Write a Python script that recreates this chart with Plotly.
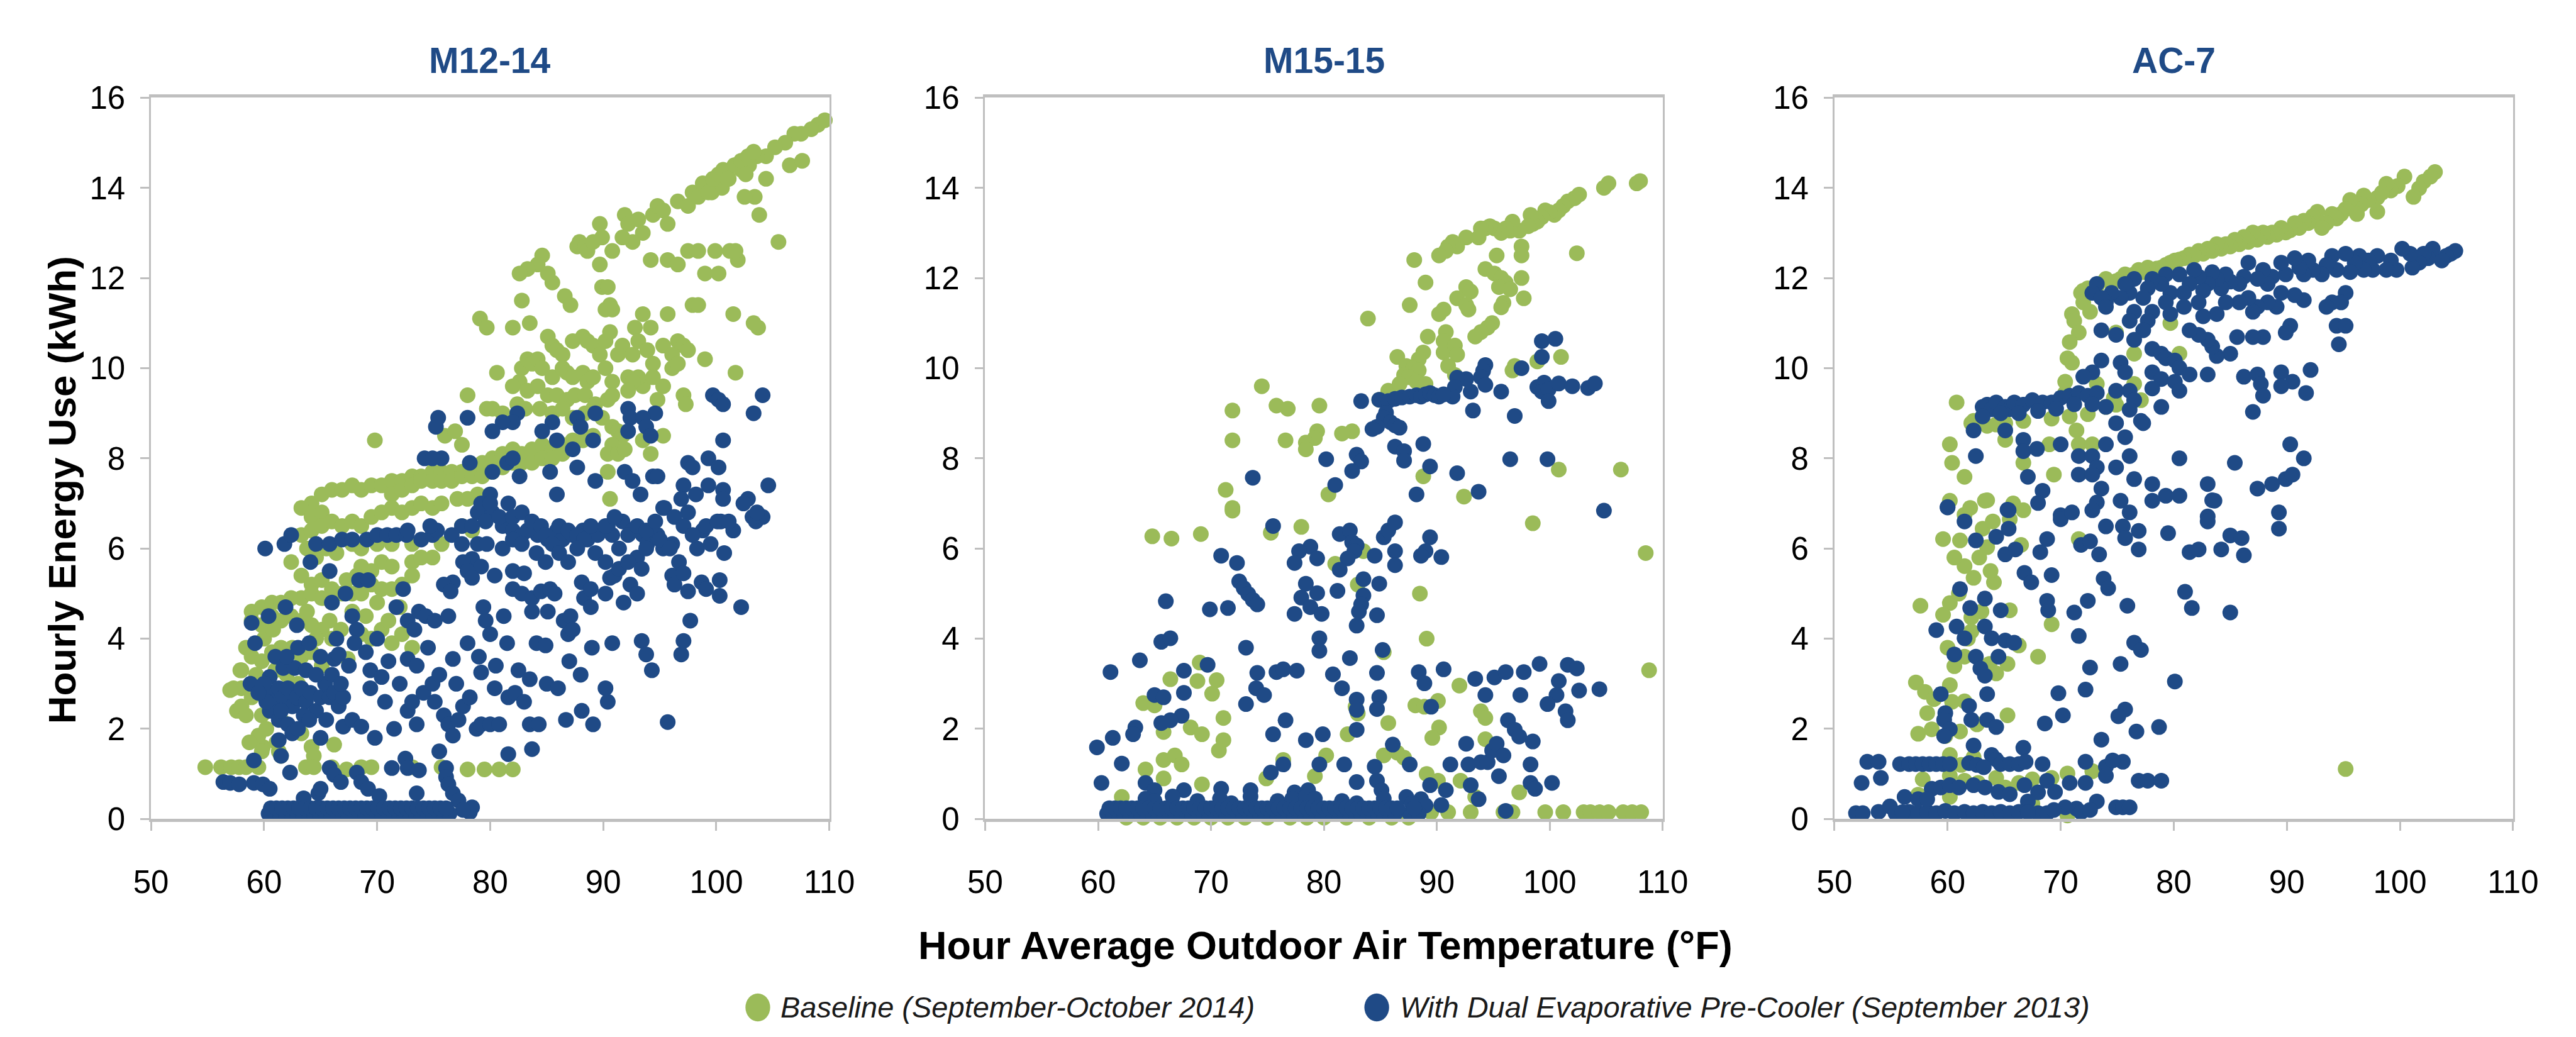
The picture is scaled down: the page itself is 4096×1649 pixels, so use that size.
import plotly.graph_objects as go

# ---------------- data ----------------
TITLES = ["M12-14", "M15-15", "AC-7"]
SERIES_NAMES = ["Baseline (September-October 2014)",
                "With Dual Evaporative Pre-Cooler (September 2013)"]
X_TICKS = [50, 60, 70, 80, 90, 100, 110]
Y_TICKS = [0, 2, 4, 6, 8, 10, 12, 14, 16]

M12_BASE = [
(109.6,15.5),(109.0,15.4),(108.4,15.3),(107.5,15.2),(106.9,15.2),(106.1,15.0),(105.2,14.9),(104.4,14.7),(103.6,14.7),(102.9,14.5),(102.2,14.4),(101.6,14.5),(101.1,14.2),(100.5,14.0),(99.6,13.9),(106.5,14.5),(107.6,14.6),(104.4,14.2),(103.4,13.8),(102.5,13.8),(103.8,13.4),(105.5,12.8),(101.9,12.4),(101.2,12.6),
(91.9,13.4),(92.2,13.2),(93.1,13.3),(93.5,13.0),(94.4,13.4),(94.8,13.6),(95.3,13.5),(95.7,13.2),(96.6,13.7),(97.5,13.6),(97.9,13.9),(98.4,13.8),(98.8,14.1),(99.3,13.9),(99.7,14.2),(100.2,14.3),(100.6,14.4),(101.0,14.2),(101.7,14.5),(102.2,14.6),(102.6,14.3),(102.8,14.7),(103.3,14.8),
(92.6,12.8),(91.7,12.9),(90.8,12.6),(89.9,12.9),(89.7,13.2),(94.2,12.4),(95.7,12.4),(96.6,12.3),(97.5,12.6),(98.4,12.6),(99.9,12.6),(101.7,12.6),(99.0,12.1),(100.2,12.1),
(87.7,12.7),(87.9,12.8),(88.4,12.7),(88.6,12.6),(89.1,12.8),(84.6,12.5),(84.2,12.3),(83.3,12.2),(82.6,12.1),(85.1,12.1),(85.5,11.9),(86.6,11.6),(87.1,11.4),(82.8,11.5),(79.1,11.1),(79.7,10.9),
(89.9,11.8),(90.4,11.8),(90.6,11.4),(90.8,11.3),(90.2,11.3),(89.7,12.3),(101.5,11.2),(103.7,10.9),(103.3,11.0),(97.9,11.4),(98.4,11.4),(99.0,10.2),(101.7,9.9),(95.7,11.2),(93.5,11.2),(94.2,10.9),(92.8,10.9),(93.1,10.6),(91.7,10.5),(91.3,10.3),(92.6,10.3),(93.9,10.4),(94.4,10.1),(95.3,10.5),(96.6,10.6),(97.1,10.5),(97.5,10.4),(96.1,10.3),(96.1,10.0),(96.6,10.1),(95.3,9.6),(97.1,9.4),(97.3,9.2),(94.8,9.3),(93.5,9.6),(93.1,9.8),(92.2,9.8),(92.6,9.7),(94.4,9.8),
(82.0,10.9),(83.5,11.0),(85.1,10.7),(85.5,10.5),(85.9,10.4),(86.4,10.3),(87.3,10.6),(88.2,10.7),(88.6,10.6),(89.1,10.5),(89.7,10.3),(90.2,10.6),(90.6,10.8),(82.8,10.0),(83.3,10.2),(83.7,10.1),(84.2,10.2),(84.6,10.0),(85.5,9.8),(86.4,10.0),(86.8,9.9),(87.3,9.8),(88.2,9.9),(88.6,9.7),(89.1,9.8),(90.2,10.0),(90.8,9.7),(82.6,9.7),(80.6,9.9),(82.0,9.6),(83.3,9.5),(84.2,9.6),(85.1,9.4),(85.9,9.4),(86.8,9.3),(87.5,9.4),(88.4,9.4),(89.3,9.2),(90.4,9.3),(90.8,9.4),(92.2,9.5),(79.7,9.1),(80.2,9.1),(81.1,9.0),(82.4,9.2),(83.1,9.1),(84.4,9.1),(85.5,9.0),(86.4,9.1),(87.3,8.9),(88.4,9.0),(89.1,9.1),(89.9,8.9),(90.8,8.7),(91.3,8.6),(91.7,8.5),(90.8,8.3),(90.4,8.1),(91.3,8.1),(91.9,8.2),(90.4,7.7),(90.6,7.1),(93.5,8.4),(94.2,8.1),(95.3,8.5),
(64.2,7.0),(65.1,7.2),(66.0,7.3),(66.9,7.3),(67.8,7.4),(68.6,7.3),(69.5,7.4),(70.4,7.4),(71.3,7.5),(72.2,7.5),(73.1,7.6),(73.9,7.6),(74.9,7.7),(75.7,7.7),(76.6,7.7),(77.5,7.7),(78.4,7.8),(79.3,7.9),(80.2,8.0),(81.1,8.1),(82.0,8.2),(82.8,8.1),(83.7,8.2),(84.6,8.3),(85.5,8.2),(86.4,8.3),(87.3,8.4),(88.2,8.4),(89.1,8.5),
(71.3,7.2),(72.2,7.3),(73.1,7.4),(73.9,7.5),(74.9,7.5),(75.7,7.5),(76.6,7.5),(77.5,7.6),(78.4,7.6),(79.3,7.6),(80.2,7.7),(81.1,7.8),(82.0,7.9),(82.8,7.9),(83.7,7.9),(84.6,8.0),(85.5,8.0),(86.4,8.1),
(63.3,6.9),(64.2,6.7),(65.1,6.8),(76.0,8.5),(77.5,8.3),(69.8,8.4),(78.0,9.4),(76.9,8.6),
(63.3,6.3),(64.2,6.4),(65.1,6.5),(66.0,6.6),(66.9,6.5),(67.8,6.6),(68.6,6.5),(69.5,6.7),(70.4,6.8),(71.3,6.9),(72.2,6.8),(73.1,6.9),(73.9,7.0),(74.9,6.9),(75.7,7.0),(77.1,7.1),(78.0,7.1),(78.9,7.2),
(63.8,6.0),(64.6,5.8),(65.5,6.0),(66.4,5.9),(67.8,6.1),(68.6,6.0),(70.0,6.1),(71.3,6.1),(73.1,6.1),(74.9,6.3),(75.7,6.1),(77.5,6.5),(78.4,6.4),
(70.4,5.7),(71.3,5.6),(73.1,5.7),(73.9,5.8),(74.9,5.8),(68.6,5.6),(69.5,5.5),(67.3,5.3),(68.2,5.4),(69.5,5.2),(70.4,5.1),(71.3,5.1),(72.2,5.2),(73.1,5.4),(62.4,5.7),(63.3,5.4),(64.2,5.2),(65.1,5.3),(66.0,5.1),(66.9,5.0),(67.8,5.0),(68.6,5.0),
(58.9,4.6),(59.8,4.7),(60.7,4.8),(61.5,4.8),(62.4,4.9),(63.3,4.9),(64.2,5.0),(65.1,4.9),(66.0,4.8),(58.9,4.4),(59.8,4.3),(60.7,4.5),(61.5,4.4),(62.4,4.5),(63.3,4.4),(64.2,4.3),(65.1,4.2),(66.0,4.0),(68.6,4.1),(69.5,4.0),(70.4,4.2),(71.3,3.9),(72.2,4.1),(73.1,3.8),
(60.0,4.0),(62.5,3.8),(64.6,4.0),(67.4,3.55),(61.0,3.3),(62.0,2.6),(63.0,3.0),(61.5,2.2),(60.8,4.2),(63.8,4.6),(65.8,4.4),(66.8,4.2),(67.8,4.6),(69.0,4.5),(70.0,4.8),(71.0,4.4),(72.0,4.7),
(58.4,3.8),(58.9,3.6),(59.8,3.5),(60.7,3.7),(61.5,3.8),(63.3,3.6),(64.2,3.7),(65.1,3.4),(59.3,3.2),(58.0,3.3),(58.0,2.9),(57.3,2.9),(62.0,3.2),(57.0,2.86),(57.6,2.4),(57.9,3.3),(58.9,2.7),(59.5,1.85),(59.9,1.6),(61.3,1.5),(66.2,1.65),
(58.0,2.5),(58.4,2.3),(59.8,2.3),(60.2,2.0),(58.7,1.7),(59.8,1.5),(61.1,1.7),(61.5,1.4),(64.2,1.6),(63.3,1.9),(64.4,1.4),
(54.8,1.15),(56.2,1.15),(57.1,1.15),(57.8,1.15),(58.4,1.15),(59.5,1.15),(63.7,1.15),(64.4,1.15),(66.0,1.15),(67.3,1.1),(68.6,1.15),(69.5,1.15),(73.1,1.15),(75.7,1.15),(78.0,1.1),(79.5,1.1),(80.8,1.1),(82.0,1.1),
]

M12_DUAL = [
(99.7,9.4),(100.2,9.3),(100.6,9.2),(104.1,9.4),(103.3,9.0),(92.2,9.1),(92.4,8.9),(94.6,9.0),(93.5,8.9),(93.8,8.7),(92.2,8.6),(94.2,8.5),(100.6,8.4),(87.7,8.9),(88.0,8.7),(89.3,9.0),(89.1,8.4),(85.5,8.8),(84.6,8.6),(85.9,8.4),(82.4,9.0),(82.0,8.8),(81.1,8.8),(80.2,8.6),(78.0,8.9),(75.4,8.9),(75.2,8.7),(74.2,8.0),(75.7,8.0),(74.9,8.0),
(78.2,7.9),(81.5,7.9),(82.0,8.0),(82.6,7.6),(80.2,7.7),(80.0,7.2),(85.3,7.7),(85.9,7.2),(87.3,8.2),(87.7,7.8),(89.3,7.5),(91.9,7.7),(93.3,7.2),(94.4,7.6),(94.8,7.6),(92.6,7.5),(97.5,7.9),(97.9,7.8),(99.3,8.0),(100.2,7.8),(99.3,7.4),(100.6,7.3),(98.2,7.2),(100.6,7.1),(104.6,7.4),(102.8,7.1),(97.1,7.4),(96.9,7.1),(95.3,6.9),(97.5,6.8),(98.8,6.4),(100.4,6.6),(101.5,6.4),(103.5,6.6),(104.1,6.7),
(77.5,6.5),(78.9,6.8),(80.2,6.8),(81.1,6.5),(82.0,6.4),(82.8,6.3),(84.2,6.3),(85.1,6.2),(85.9,6.4),(86.4,6.2),(87.3,6.3),(88.2,6.4),(88.6,6.2),(89.5,6.3),(90.4,6.5),(90.8,6.3),(91.7,6.6),(92.6,6.4),(93.5,6.3),(93.9,6.1),(94.8,6.3),(95.3,6.0),(96.1,6.1),
(60.1,6.0),(61.8,6.1),(62.4,6.3),(64.6,6.1),(65.8,6.1),(66.9,6.2),(67.8,6.2),(69.1,6.2),(70.0,6.3),(70.9,6.3),(71.7,6.3),(72.6,6.3),(73.9,6.2),(74.9,6.3),(75.3,6.4),(76.6,6.3),(77.5,6.1),(78.9,6.1),(79.7,6.1),(81.1,6.0),
(79.2,7.0),(80.0,7.0),(79.6,6.6),(80.8,6.7),(81.6,7.0),(82.0,6.7),(82.8,6.8),(83.3,6.4),(83.7,6.6),(84.5,6.5),(84.9,6.3),(85.5,6.1),(86.1,6.5),(86.9,6.4),(87.7,6.3),(88.3,6.2),(88.9,6.5),(90.2,6.5),(91.0,6.7),(92.2,6.3),(93.0,6.5),(93.8,6.4),(94.6,6.6),(95.4,6.9),(96.3,6.7),(97.1,6.5),(98.3,6.0),(99.1,6.5),(100.1,6.6),(101.1,6.6),(102.4,7.0),(103.2,6.7),(103.6,6.8),(72.7,6.4),(74.7,6.5),(78.4,6.5),
(78.4,5.77),(79.2,5.6),(82.0,6.2),(82.8,6.1),(84.1,5.9),(84.9,5.7),(86.1,5.9),(86.9,5.7),(87.7,6.0),(89.3,5.9),(90.2,5.7),(91.4,6.0),(93.0,5.8),(93.8,6.0),(95.0,6.2),(95.9,6.0),(96.7,5.7),(97.9,6.3),(99.5,6.1),(100.7,5.9),
(58.9,4.35),(60.4,4.5),(59.2,3.9),(61.9,4.7),(62.9,4.3),(64.1,5.7),(65.8,5.5),(67.2,5.0),(66.0,4.8),(66.4,4.0),(67.8,4.5),(68.2,4.2),(68.4,5.3),(69.2,5.3),(71.7,4.7),(72.3,5.1),(72.7,4.4),(73.3,4.2),(73.7,4.6),(74.3,4.5),(75.1,4.4),(76.3,4.5),(76.7,5.25),(75.9,5.2),(76.5,5.05),(77.6,5.7),(78.0,5.5),(78.4,5.35),(79.4,4.7),(80.4,5.4),(79.6,4.4),(80.0,4.1),(81.2,4.5),(82.0,5.5),(83.0,5.45),(82.0,5.1),(82.8,5.0),(83.7,4.9),(84.1,3.9),(84.9,3.85),(83.7,4.6),(84.5,5.05),(85.3,5.1),(85.7,5.0),(85.1,4.6),(86.5,4.4),(86.9,4.1),(87.1,4.5),(87.3,4.2),(88.1,5.25),(88.3,4.9),(88.9,5.1),(88.9,4.7),(90.2,5.0),(90.6,5.35),(91.0,5.4),(91.4,5.55),(91.8,4.8),(92.4,5.2),(93.0,5.0),(92.2,5.7),(93.4,5.55),(93.4,3.95),(93.8,3.65),(94.3,3.3),(96.1,5.4),(96.3,5.2),(97.1,5.45),(97.5,5.05),(97.7,4.4),(97.1,3.95),(96.9,3.65),(98.7,5.25),(99.1,5.1),(100.3,5.3),(100.3,4.95),(102.2,4.7),(90.8,3.9),(95.7,2.15),
(60.5,3.15),(60.7,2.8),(60.9,2.6),(61.3,2.9),(61.7,2.7),(62.1,2.9),(62.5,2.5),(62.9,2.7),(63.3,2.9),(63.7,2.6),(64.1,2.8),(64.6,2.4),(65.0,2.7),(65.4,3.0),(65.8,2.7),(66.2,2.8),(66.6,2.5),(67.0,2.7),(60.5,2.4),(61.3,2.2),(62.1,2.1),(61.7,3.35),(62.7,3.35),(63.7,3.3),(64.6,3.2),(66.2,3.55),(66.6,3.65),(61.3,1.75),(62.5,1.9),(65.0,1.8),(67.0,2.05),(67.8,2.2),(68.6,2.05),(69.4,2.9),(69.4,3.3),(70.4,3.15),(70.7,2.6),(69.8,1.8),(71.5,2.0),(72.7,2.4),(73.1,2.6),(73.5,2.1),(74.1,2.8),(74.9,3.0),(75.1,2.6),(75.9,2.3),(76.3,2.1),(76.7,1.85),(77.2,2.2),(77.6,2.5),(78.2,2.7),(78.8,2.0),(79.2,2.1),(80.0,2.1),(80.8,2.1),(81.6,2.7),(82.2,2.8),(83.0,2.6),(83.5,2.1),(83.7,1.55),(84.3,2.1),(86.7,2.2),(88.1,2.4),(89.1,2.1),(90.4,2.6),(90.2,2.9),(79.2,3.25),(80.4,2.9),(72.7,3.55),(76.7,3.55),
(60.0,3.0),(61.0,3.6),(62.0,3.6),(63.0,3.8),(64.0,3.9),(65.0,3.6),(66.0,3.2),(61.5,2.4),(63.5,2.3),(65.5,2.2),(63.0,2.0),(64.0,2.2),(60.2,2.6),(66.8,3.0),(67.5,3.4),(68.0,3.9),(69.0,3.7),(70.0,4.0),(71.0,3.5),(72.0,3.0),(73.5,3.4),(74.5,3.8),(75.5,3.2),(77.0,3.0),(78.0,3.9),(79.0,3.6),(80.5,3.4),(81.5,3.9),(82.5,3.3),(83.5,3.1),(85.0,3.0),(86.0,2.9),(87.0,3.5),(88.0,3.2),(89.0,3.8),(58.8,3.0),(59.5,2.8),
(59.1,1.3),(56.4,0.82),(57.0,0.8),(57.8,0.77),(59.1,0.8),(59.9,0.77),(60.5,0.67),(62.3,1.03),(61.5,1.4),(63.5,0.46),(64.8,0.57),(65.8,1.13),(66.2,0.98),(66.8,0.82),(68.2,1.03),(68.6,0.82),(69.2,0.67),(70.2,0.51),(71.3,1.13),(72.5,1.34),(72.7,1.13),(73.5,0.57),(73.7,1.08),(76.1,1.13),(76.1,0.93),(76.3,0.77),(76.7,0.57),(77.2,0.41),(78.2,0.15),(78.4,0.26),(75.5,1.5),(81.6,1.44),(65.0,0.67),(77.6,0.2),
(60.4,0.12),(60.9,0.12),(61.4,0.12),(61.9,0.12),(62.4,0.12),(62.9,0.12),(63.4,0.12),(63.9,0.12),(64.4,0.12),(64.9,0.12),(65.4,0.12),(65.9,0.12),(66.4,0.12),(66.9,0.12),(67.4,0.12),(67.9,0.12),(68.4,0.12),(68.9,0.12),(69.4,0.12),(69.9,0.12),(70.4,0.12),(70.9,0.12),(71.4,0.12),(71.9,0.12),(72.4,0.12),(72.9,0.12),(73.4,0.12),(73.9,0.12),(74.4,0.12),(74.9,0.12),(75.4,0.12),(75.9,0.12),(76.4,0.12),
(60.6,0.24),(61.1,0.24),(61.6,0.24),(62.1,0.24),(62.6,0.24),(63.1,0.24),(63.6,0.24),(64.1,0.24),(64.6,0.24),(65.1,0.24),(65.6,0.24),(66.1,0.24),(66.6,0.24),(67.1,0.24),(67.6,0.24),(68.1,0.24),(68.6,0.24),(69.1,0.24),(69.6,0.24),(70.1,0.24),(70.6,0.24),(71.1,0.24),(71.6,0.24),(72.1,0.24),(72.6,0.24),(73.1,0.24),(73.6,0.24),(74.1,0.24),(74.6,0.24),(75.1,0.24),(75.6,0.24),(76.1,0.24),
]

M15_BASE = [
(107.7,14.1),(108.0,14.15),(104.8,14.0),(105.2,14.1),(102.6,13.85),(102.2,13.77),(101.6,13.7),(101.2,13.6),(100.8,13.5),(100.4,13.4),(100.0,13.46),(99.6,13.5),(99.3,13.35),(98.9,13.25),(98.5,13.2),(98.3,13.4),(98.1,13.15),(97.3,13.05),(96.7,13.25),(96.5,13.05),(96.1,13.1),(95.7,13.0),(95.1,13.1),(94.7,13.15),(94.3,13.1),(93.9,13.1),(93.7,12.9),(92.6,12.9),(91.8,12.7),(91.4,12.8),(91.0,12.7),(90.8,12.6),(90.2,12.5),(88.0,12.4),(97.5,12.7),(97.5,12.5),(95.3,12.5),(94.3,12.2),(95.1,12.1),(95.7,12.0),(96.1,11.9),(97.5,12.0),(95.5,11.8),(96.5,11.75),(97.7,11.55),(95.9,11.45),(95.7,11.35),(102.4,12.55),(92.6,11.8),(93.0,11.7),(89.0,11.9),(91.8,11.55),(92.6,11.4),(92.8,11.3),(90.6,11.3),(90.2,11.2),(87.6,11.4),(83.9,11.1),(94.9,11.0),(94.5,10.9),(93.9,10.8),(93.4,10.7),(90.8,10.8),(90.6,10.6),(89.2,10.7),(88.8,10.35),(90.6,10.35),(91.6,10.5),(91.8,10.3),(86.5,10.25),(88.4,10.2),(87.3,10.05),(87.9,10.0),(88.4,9.95),(87.1,9.85),(87.5,9.8),(91.0,10.05),(91.6,9.85),(96.9,10.05),(98.9,10.15),(101.0,10.25),(96.7,9.95),
(84.9,9.3),(85.7,9.5),(86.7,9.65),(88.2,9.7),(89.0,9.65),(74.5,9.6),(71.9,9.06),(75.8,9.17),(76.8,9.1),(79.6,9.17),(82.5,8.6),(81.6,8.55),(79.4,8.6),(79.2,8.45),(78.4,8.35),(78.4,8.2),(76.6,8.4),(71.9,8.4),(100.8,7.75),(106.3,7.75),(88.8,7.6),(71.3,7.3),(71.9,6.9),(80.4,7.2),(92.4,7.15),
(71.9,6.84),(64.8,6.27),(66.5,6.22),(69.1,6.32),(78.0,6.48),(75.3,6.35),(98.5,6.56),(108.5,5.9),(83.5,5.94),(81.0,5.66),(83.0,5.2),(88.5,5.0),(89.1,4.0),(85.3,3.7),(108.8,3.3),(69.0,3.47),(66.4,3.1),(68.8,3.06),(70.5,3.08),(70.1,2.78),(64.0,2.57),(65.0,2.52),(92.0,2.96),(88.1,2.52),(88.9,2.49),(90.1,2.62),(82.8,2.49),(83.0,2.34),(93.9,2.39),(94.3,2.24),(71.1,2.24),(65.8,1.93),(68.2,2.03),(69.2,1.88),(71.1,1.75),(70.7,1.52),(82.1,1.88),(85.7,2.13),(90.2,2.03),(89.6,1.8),(94.3,1.77),(65.8,1.31),(66.8,1.41),(67.4,1.21),(64.2,1.1),(80.2,1.41),(76.4,1.31),(86.5,1.47),(87.1,1.36),(85.3,1.41),(79.2,0.95),(74.9,0.9),(69.2,0.77),(65.8,0.9),(62.1,0.49),(89.1,1.0),(90.1,0.85),(92.1,0.85),(93.4,0.49),(97.3,0.59),
(96.7,0.15),(99.6,0.15),(101.2,0.15),(103.0,0.15),(103.6,0.15),(104.4,0.15),(105.2,0.15),(106.5,0.15),(107.3,0.15),(108.1,0.15),(95.9,0.15),(93.0,0.15),(91.0,0.15),(89.5,0.15),
(62.5,0.03),(64.0,0.03),(65.5,0.03),(67.0,0.03),(68.5,0.03),(70.0,0.03),(71.5,0.03),(73.0,0.03),(75.0,0.03),(77.0,0.03),(78.5,0.03),(80.0,0.03),(82.0,0.03),(84.0,0.03),(86.0,0.03),(87.5,0.03),
]

M15_DUAL = [
(99.3,10.6),(100.5,10.65),(99.3,10.25),(97.5,10.0),(94.3,10.07),(94.1,9.94),(93.9,9.8),(92.6,9.76),(91.8,9.79),(91.6,9.58),(91.4,9.37),(93.0,9.48),(94.3,9.63),(98.9,9.58),(99.5,9.68),(99.3,9.48),(99.9,9.53),(100.8,9.66),(102.0,9.6),(103.4,9.56),(104.0,9.66),(99.9,9.27),(95.7,9.48),(93.2,9.06),(96.9,8.94),(83.3,9.27),(84.9,9.3),(85.7,9.27),(86.3,9.32),(86.9,9.35),(87.6,9.37),(88.2,9.4),(88.6,9.37),(89.0,9.42),(89.4,9.45),(89.8,9.4),(90.2,9.37),(90.6,9.42),(85.5,9.01),(85.3,8.9),(85.9,8.8),(86.3,8.73),(86.7,8.68),(84.7,8.7),(84.3,8.65),(86.3,8.26),(87.1,8.16),(88.8,8.32),(87.1,7.95),(89.4,7.82),(82.9,8.08),(83.3,7.93),(82.5,7.72),(80.2,7.98),(81.0,7.41),(73.7,7.57),(88.2,7.2),(91.8,7.67),(93.7,7.26),(96.5,7.98),(99.8,7.98),(104.8,6.84),
(75.5,6.5),(81.4,6.32),(82.3,6.4),(82.5,6.14),(82.9,6.07),(82.7,5.94),(82.1,5.78),(81.4,5.53),(85.3,6.25),(85.7,6.4),(86.3,6.58),(86.3,5.94),(86.3,5.63),(89.4,6.25),(89.0,5.94),(88.6,5.84),(90.4,5.81),(84.5,5.84),(78.8,6.04),(77.8,5.94),(77.4,5.68),(79.4,5.78),(70.9,5.84),(72.3,5.68),(72.5,5.27),(72.9,5.12),(73.3,4.99),(73.7,4.86),(74.1,4.76),(69.9,4.65),(71.5,4.68),(66.0,4.83),(78.4,5.22),(79.4,5.01),(78.0,4.91),(77.4,4.55),(78.8,4.7),(79.8,4.55),(81.2,5.06),(83.5,5.32),(83.5,4.96),(83.3,4.76),(83.1,4.6),(82.9,4.29),(84.9,5.22),(84.7,4.52),(79.6,4.01),(79.6,3.73),(65.6,3.93),(66.4,4.01),(73.1,3.8),(82.3,3.57),(85.2,3.75),(63.7,3.52),(61.1,3.26),(67.6,3.29),(69.7,3.42),(74.1,3.24),(75.8,3.26),(76.4,3.32),(77.6,3.29),(80.8,3.21),(84.7,3.24),(88.4,3.26),(90.6,3.32),(93.4,3.11),(95.1,3.14),(96.1,3.26),(97.7,3.26),(99.1,3.44),(101.6,3.42),(102.4,3.34),(104.4,2.88),(102.6,2.85),(100.8,3.06),(100.6,2.75),(99.8,2.55),(101.4,2.39),(101.6,2.19),(97.4,2.75),(94.3,2.75),(88.9,3.01),(89.5,2.49),(84.9,2.7),(84.7,2.44),(82.9,2.65),(82.9,2.42),(81.6,2.9),(74.0,2.9),(74.7,2.75),(73.1,2.55),(67.6,2.8),(65.0,2.75),(65.8,2.7),(67.4,2.29),(66.4,2.19),(65.6,2.13),(63.3,2.03),(63.1,1.88),(61.3,1.8),(59.9,1.59),(62.1,1.23),(60.3,0.8),(64.2,0.8),(65.0,0.64),(67.6,0.64),(70.9,0.67),(73.5,0.64),(75.5,1.88),(76.6,2.19),(76.4,1.21),(75.3,1.03),(78.4,1.75),(79.9,1.88),(79.6,1.21),(78.6,0.64),(77.4,0.59),(81.8,1.21),(82.9,1.98),(82.9,0.82),(84.5,1.16),(84.7,0.85),(85.1,0.64),(86.1,1.65),(87.6,1.21),(87.3,0.49),(88.6,0.44),(89.4,0.75),(90.4,0.31),(90.8,0.64),(91.2,1.21),(92.6,1.67),(92.8,1.21),(93.0,0.75),(93.7,0.44),(93.9,1.26),(94.5,1.26),(94.9,1.52),(95.3,1.67),(95.9,1.41),(95.5,0.95),(96.1,0.18),(96.3,2.19),(96.9,1.98),(97.3,1.83),(98.5,1.72),(98.3,1.21),(98.3,0.8),(98.7,0.67),(100.2,0.8),
(64.2,0.45),(65.0,0.4),(66.6,0.5),(68.8,0.4),(70.8,0.45),(71.8,0.35),(73.5,0.5),(75.9,0.4),(77.2,0.45),(78.4,0.5),(79.2,0.45),(81.6,0.4),(82.9,0.35),(85.3,0.45),(87.8,0.35),(89.0,0.3),
(60.8,0.12),(61.3,0.12),(61.8,0.12),(62.3,0.12),(62.8,0.12),(63.3,0.12),(63.8,0.12),(64.3,0.12),(64.8,0.12),(65.3,0.12),(65.8,0.12),(66.3,0.12),(66.8,0.12),(67.3,0.12),(67.8,0.12),(68.3,0.12),(68.8,0.12),(69.3,0.12),(69.8,0.12),(70.3,0.12),(70.8,0.12),(71.3,0.12),(71.8,0.12),(72.3,0.12),(72.8,0.12),(73.3,0.12),(73.8,0.12),(74.3,0.12),(74.8,0.12),(75.3,0.12),(75.8,0.12),(76.3,0.12),(76.8,0.12),(77.3,0.12),(77.8,0.12),(78.3,0.12),(78.8,0.12),(79.3,0.12),(79.8,0.12),(80.3,0.12),(80.8,0.12),(81.3,0.12),(81.8,0.12),(82.3,0.12),(82.8,0.12),(83.3,0.12),(83.8,0.12),(84.3,0.12),(84.8,0.12),(85.3,0.12),(85.8,0.12),(86.3,0.12),(87.6,0.12),(88.4,0.12),
(61.0,0.24),(61.5,0.24),(62.0,0.24),(62.5,0.24),(63.0,0.24),(63.5,0.24),(64.0,0.24),(64.5,0.24),(65.0,0.24),(65.5,0.24),(66.0,0.24),(66.5,0.24),(67.0,0.24),(67.5,0.24),(68.0,0.24),(68.5,0.24),(69.0,0.24),(69.5,0.24),(70.0,0.24),(70.5,0.24),(71.0,0.24),(71.5,0.24),(72.0,0.24),(72.5,0.24),(73.0,0.24),(73.5,0.24),(74.0,0.24),(74.5,0.24),(75.0,0.24),(75.5,0.24),(76.0,0.24),(76.5,0.24),(77.0,0.24),(77.5,0.24),(78.0,0.24),(78.5,0.24),(79.0,0.24),(79.5,0.24),(80.0,0.24),(80.5,0.24),(81.0,0.24),(81.5,0.24),(82.0,0.24),(82.5,0.24),(83.0,0.24),(83.5,0.24),(84.0,0.24),(84.5,0.24),(85.0,0.24),(85.5,0.24),(86.0,0.24),(86.5,0.24),(88.0,0.24),
]

AC7_BASE = [
(103.1,14.35),(102.7,14.25),(102.1,14.14),(101.7,13.99),(100.4,14.25),(99.8,14.04),(99.2,13.94),(98.8,14.09),(98.4,13.89),(98.0,13.78),(97.2,13.73),(96.8,13.83),(96.6,13.63),(96.2,13.53),(95.6,13.73),(95.2,13.53),(94.8,13.42),(94.4,13.32),(94.0,13.42),(93.5,13.22),(92.7,13.47),(92.3,13.37),(91.9,13.22),(91.5,13.27),(91.1,13.11),(90.7,13.22),(90.3,13.06),(89.9,13.01),(89.5,13.11),(89.1,12.96),(88.7,13.01),(88.3,12.91),(87.9,13.01),(87.4,12.85),(87.0,13.01),(86.6,12.8),(86.2,12.91),(85.8,12.75),(85.4,12.85),(85.0,12.7),(84.6,12.75),(84.2,12.65),(83.8,12.75),(83.4,12.6),(83.0,12.65),(82.6,12.54),(82.2,12.6),(81.8,12.49),(81.4,12.52),(80.9,12.44),(80.5,12.41),(80.1,12.39),(79.7,12.34),(79.3,12.29),(78.9,12.23),(78.5,12.21),(78.1,12.18),(77.7,12.23),(77.3,12.13),(76.9,12.18),(76.5,12.08),(76.1,12.03),(75.7,12.08),(75.3,11.98),(74.9,11.93),(74.5,11.87),(74.0,11.98),(73.2,11.82),(72.4,11.77),(72.0,11.72),(71.8,11.67),(72.0,11.46),(71.0,11.2),(71.2,11.05),(71.6,10.79),(70.8,10.58),(70.6,10.22),(71.0,10.12),(70.4,9.7),(70.4,9.45),(72.6,11.25),(74.9,10.79),(76.5,10.32),(79.7,11.0),(80.5,10.32),(73.2,9.65),(74.7,9.34),(74.9,9.19),(76.5,9.65),(77.1,9.29),
(98.0,13.47),(96.2,13.42),(93.1,13.11),(101.2,13.8),
(60.8,9.24),(62.3,8.83),(63.5,8.72),(65.1,8.78),(62.1,8.78),(64.3,8.75),(66.7,8.83),(69.2,8.88),(70.8,8.93),(72.4,8.98),(74.0,9.14),(60.2,8.31),(60.4,7.9),(61.5,7.59),(63.5,7.07),(65.1,8.41),(66.7,7.9),(69.0,8.31),(71.4,8.62),(71.6,8.31),(72.8,8.31),(69.4,7.64),
(60.2,7.06),(61.5,6.75),(63.3,7.06),(65.5,6.65),(66.7,6.85),(71.6,6.21),(59.6,6.21),(61.1,6.18),(63.1,6.44),(63.5,6.03),(66.5,6.08),(61.5,5.61),(62.3,5.35),(64.1,5.25),(57.6,4.73),(60.2,4.79),(59.6,4.53),(62.1,4.47),(65.5,4.63),(69.2,4.32),(62.1,4.16),(60.0,3.8),(61.5,3.6),(63.7,3.44),(64.3,3.23),(66.3,3.85),(65.3,3.44),(68.0,3.6),(60.6,3.39),(57.2,3.03),(58.0,2.82),(58.8,2.66),(60.2,2.97),(61.5,2.61),(58.2,2.35),(57.4,1.89),(58.6,1.99),(59.8,1.84),(61.1,1.94),(65.3,2.3),(60.2,1.42),(62.3,1.37),(57.8,0.88),(60.2,0.96),(61.5,0.85),(62.7,0.8),(64.3,0.91),(65.1,0.7),(66.3,0.8),(67.5,0.88),(69.2,0.91),(70.6,1.01),(72.8,1.06),(57.4,0.54),(60.2,0.49),(67.5,0.34),(70.6,0.08),(95.2,1.11),
(61.0,5.0),(60.6,5.8),(62.8,5.8),(63.8,5.5),(61.8,4.0),(63.0,4.6),(60.4,2.6),(62.6,2.1),(61.2,1.2),(64.0,6.6),(65.8,7.0),(62.0,6.9),
]

AC7_DUAL = [
(104.5,12.54),(104.9,12.6),(104.1,12.49),(103.7,12.39),(102.9,12.65),(102.5,12.44),(102.1,12.54),(101.7,12.34),(101.1,12.23),(100.9,12.54),(100.2,12.65),(99.7,12.18),(99.2,12.39),(98.8,12.18),(98.0,12.49),(97.6,12.18),(97.2,12.39),(96.8,12.18),(96.4,12.49),(96.0,12.34),(95.6,12.13),(95.2,12.54),(94.4,12.18),(94.0,12.49),(93.5,12.29),(93.1,12.08),(92.3,12.18),(91.9,12.39),(91.5,12.08),(91.1,12.23),(90.7,12.44),(89.9,12.08),(89.5,12.34),(88.7,12.03),(88.3,11.87),(87.9,12.18),(87.4,11.98),(86.6,12.34),(86.2,12.03),(85.8,11.87),(85.0,11.92),(84.6,12.08),(84.2,11.77),(83.8,11.98),(83.4,12.13),(83.0,11.87),(82.6,11.72),(82.2,12.03),(81.8,12.18),(81.4,11.87),(80.9,11.67),(80.5,12.08),(79.7,11.67),(79.3,12.08),(78.9,11.87),(78.1,11.98),(77.7,11.77),(77.3,11.56),(76.5,11.98),(76.1,11.67),(75.7,11.87),(75.3,11.56),(74.5,11.67),(74.0,11.46),(73.2,11.87),(72.8,11.67),(73.6,11.56),
(95.2,11.67),(94.8,11.46),(94.0,11.46),(93.5,11.36),(91.5,11.51),(90.7,11.62),(89.5,11.67),(89.1,11.36),(88.3,11.46),(87.4,11.36),(87.0,11.25),(86.6,11.56),(85.8,11.46),(84.6,11.46),(83.8,11.2),(82.6,11.15),(82.2,11.46),(80.9,11.36),(79.7,11.2),(79.3,11.46),(78.1,11.25),(77.7,11.05),(76.5,11.25),(76.1,11.05),(74.0,11.36),
(94.4,10.94),(95.2,10.94),(94.6,10.53),(90.3,10.94),(89.9,10.79),(87.9,10.69),(87.0,10.69),(85.6,10.69),(85.0,10.32),(83.8,10.27),(83.4,10.48),(83.0,10.63),(82.2,10.74),(81.4,10.84),(78.1,10.43),(78.9,10.32),(79.3,10.22),(80.1,10.17),(80.5,10.01),(81.4,9.86),(77.3,10.84),(74.9,10.74),(73.6,10.84),(76.5,10.63),
(83.0,9.86),(86.2,9.81),(87.4,9.86),(89.5,9.91),(92.1,9.96),(90.5,9.7),(87.7,9.65),(89.5,9.6),(91.7,9.45),(87.9,9.39),(87.0,9.03),
(73.6,10.17),(72.8,9.91),(72.0,9.81),(75.3,10.12),(75.7,9.91),(78.1,9.91),(78.9,9.76),(80.1,9.7),(78.1,9.55),(80.5,9.5),(76.1,9.5),(76.5,9.29),(76.1,9.08),(77.3,8.78),(78.9,9.14),
(63.1,9.14),(63.5,9.19),(63.9,9.09),(64.3,9.24),(65.1,9.14),(65.5,9.09),(65.9,9.24),(66.7,9.19),(67.5,9.29),(68.4,9.24),(69.2,9.24),(70.0,9.34),(70.8,9.39),(71.6,9.45),(72.4,9.39),(73.2,9.45),(74.0,9.14),(63.1,8.93),(64.7,9.0),(66.3,9.0),(68.0,9.05),(69.6,9.1),(71.2,9.2),(72.8,9.2),(74.9,9.5),
(62.3,8.62),(62.5,8.05),(65.1,8.62),(66.7,8.41),(66.7,8.16),(67.9,8.21),(70.0,8.31),(71.6,8.05),(72.8,8.05),(73.2,7.8),(74.0,8.31),(74.9,8.78),(75.7,8.47),(76.1,8.05),(77.1,8.83),(74.9,7.8),(76.5,7.54),(78.1,7.43),(79.3,7.17),(80.5,8.0),(80.5,7.17),(83.0,7.43),(83.4,7.07),(85.4,7.9),(87.4,7.33),(88.7,7.43),(89.9,7.54),(90.5,7.64),(90.3,8.31),(91.5,8.0),(67.1,7.59),(68.4,7.28),(71.6,7.64),(72.8,7.64),(73.6,7.33),(60.0,6.92),(65.3,6.86),(70.0,6.74),(73.2,7.02),(83.0,6.71),
(60.0,6.91),(61.5,6.6),(62.5,6.18),(64.3,6.26),(65.4,6.85),(65.4,6.44),(66.0,5.98),(65.1,5.87),(68.2,5.92),(68.0,7.01),(68.8,6.21),(69.2,5.41),(66.8,5.46),(67.4,5.25),(70.0,6.65),(71.0,6.8),(71.8,6.08),(72.6,6.16),(73.4,5.87),(72.8,6.85),(74.0,6.49),(75.3,7.06),(75.5,6.49),(75.7,6.23),(76.1,6.8),(76.9,6.39),(76.9,5.98),(78.1,7.06),(79.5,6.34),(81.4,5.92),(82.2,5.98),(83.0,6.6),(83.6,7.06),(84.2,5.98),(85.0,6.29),(86.0,6.23),(86.2,5.85),(89.3,6.8),(89.3,6.44),(81.0,5.04),(81.6,4.68),(85.0,4.58),(73.8,5.33),(74.2,5.12),(72.4,4.84),(71.2,4.58),(68.8,4.84),(68.9,4.63),(75.9,4.73),(76.5,3.91),(77.1,3.75),(71.6,4.06),(72.6,3.36),(75.3,3.44),(80.1,3.05),(72.2,2.87),(69.8,2.79),(70.2,2.3),(75.7,2.43),(75.1,2.28),(68.6,2.12),(76.7,1.94),(78.7,2.04),(73.6,1.76),(59.0,4.19),(60.8,4.27),(60.6,3.65),(61.5,4.01),(61.1,5.1),(62.0,4.68),(63.3,4.89),(63.3,4.27),(63.9,4.01),(64.7,4.63),(65.1,3.96),(65.9,3.91),(64.5,3.6),(62.5,3.6),(62.9,3.34),(63.3,3.18),(63.5,2.77),(61.9,2.51),(59.8,2.35),(59.7,2.2),(60.2,1.99),(59.7,1.84),(59.4,2.77),(62.1,2.2),(62.3,1.63),(63.5,2.2),(64.3,2.04),(66.7,1.58),(63.9,1.42),
(52.9,1.27),(53.9,1.27),(55.8,1.22),(56.6,1.22),(57.2,1.22),(57.8,1.22),(58.4,1.22),(59.0,1.22),(59.6,1.22),(60.2,1.22),(61.9,1.24),(64.3,1.32),(64.7,1.22),(65.5,1.22),(66.3,1.22),(66.9,1.27),(68.4,1.22),(72.2,1.27),(74.0,1.16),(75.5,1.27),(74.6,1.3),(62.6,1.2),(63.2,1.15),
(52.4,0.8),(54.1,0.91),(58.6,0.67),(59.4,0.7),(60.2,0.75),(61.0,0.7),(62.3,0.75),(63.3,0.7),(64.5,0.6),(65.5,0.55),(68.0,0.59),(68.8,0.85),(70.8,0.8),(72.2,0.8),(74.0,0.96),(76.9,0.85),(77.7,0.85),(78.9,0.85),(56.2,0.49),(67.1,0.39),(71.4,0.23),(73.2,0.39),(66.8,0.75),(69.5,0.6),
(51.9,0.13),(52.5,0.13),(53.9,0.16),(54.9,0.28),(55.4,0.13),(56.6,0.16),(57.4,0.13),(58.2,0.16),(59.0,0.13),(59.8,0.18),(60.6,0.13),(61.5,0.16),(62.3,0.13),(63.1,0.16),(63.9,0.13),(64.7,0.16),(65.5,0.13),(66.3,0.16),(68.0,0.13),(68.8,0.13),(70.4,0.26),(74.9,0.26),(75.5,0.26),(76.1,0.26),(57.4,0.44),(58.2,0.44),(56.0,0.15),(67.1,0.15),(69.4,0.2),(71.8,0.15),(72.6,0.2),
]

PANELS = [(M12_BASE, M12_DUAL), (M15_BASE, M15_DUAL), (AC7_BASE, AC7_DUAL)]

# ---------------- styling ----------------
W, H = 4096, 1649
GREEN = "#9BBB59"
BLUE = "#1F4A86"
GRID = "#BFBFBF"
FONT = "Liberation Sans, Arial, sans-serif"
MARKER = 25

# plot areas in pixels (left, right), shared top/bottom
X_PIX = [(207.6, 1304.7), (1556.7, 2652.4), (2930.3, 4027.7)]
Y_TOP, Y_BOT = 123.6, 1311.7

fig = go.Figure()

for i, (base, dual) in enumerate(PANELS):
    ax = "" if i == 0 else str(i + 1)
    for pts, col, name in ((base, GREEN, SERIES_NAMES[0]), (dual, BLUE, SERIES_NAMES[1])):
        fig.add_trace(go.Scatter(
            x=[p[0] for p in pts], y=[p[1] for p in pts],
            mode="markers", name=name, showlegend=False,
            marker=dict(color=col, size=MARKER, line=dict(width=0)),
            cliponaxis=False,
            xaxis="x" + ax, yaxis="y" + ax))
    l, r = X_PIX[i]
    fig.layout["xaxis" + ax] = dict(
        domain=[l / W, r / W], range=[50, 110], anchor="y" + ax,
        tickvals=X_TICKS, ticks="outside", ticklen=14, tickwidth=2.5, tickcolor=GRID,
        showline=True, linecolor=GRID, linewidth=4.5, mirror=True,
        showgrid=False, zeroline=False, ticklabelstandoff=38,
        tickfont=dict(family=FONT, size=51, color="#000000"))
    fig.layout["yaxis" + ax] = dict(
        domain=[1 - Y_BOT / H, 1 - Y_TOP / H], range=[0, 16], anchor="x" + ax,
        tickvals=Y_TICKS, ticks="outside", ticklen=14, tickwidth=2.5, tickcolor=GRID,
        showline=True, linecolor=GRID, linewidth=2.5, mirror=True,
        showgrid=False, zeroline=False, ticklabelstandoff=14,
        tickfont=dict(family=FONT, size=51, color="#000000"))

annotations = []
for i, t in enumerate(TITLES):
    l, r = X_PIX[i]
    annotations.append(dict(
        text=t, x=(l + r) / 2 / W, y=1 - 62 / H, xref="paper", yref="paper",
        xanchor="center", yanchor="middle", showarrow=False,
        font=dict(family=FONT, size=57, color=BLUE, weight="bold")))

annotations.append(dict(
    text="Hour Average Outdoor Air Temperature (°F)", x=2107 / W, y=1 - 1520 / H,
    xref="paper", yref="paper", xanchor="center", yanchor="middle", showarrow=False,
    font=dict(family=FONT, size=63, color="#000000", weight="bold")))
annotations.append(dict(
    text="Hourly Energy Use (kWh)", x=63 / W, y=1 - 770 / H, textangle=-90,
    xref="paper", yref="paper", xanchor="center", yanchor="middle", showarrow=False,
    font=dict(family=FONT, size=62, color="#000000", weight="bold")))

# custom legend
LEG_Y = 1622
LEG_ITEMS = [(1189, 1224, GREEN, SERIES_NAMES[0]), (2190, 2225, BLUE, SERIES_NAMES[1])]
shapes = []
RX, RY = 20, 23
for cx, tx, col, name in LEG_ITEMS:
    shapes.append(dict(type="circle", xref="paper", yref="paper",
                       x0=(cx - RX) / W, x1=(cx + RX) / W,
                       y0=1 - (LEG_Y + RY) / H, y1=1 - (LEG_Y - RY) / H,
                       fillcolor=col, line=dict(width=0)))
    annotations.append(dict(text=name, x=tx / W, y=1 - LEG_Y / H, xref="paper", yref="paper",
                            xanchor="left", yanchor="middle", showarrow=False,
                            font=dict(family=FONT, size=47, color="#1A1A1A", style="italic")))

fig.update_layout(
    width=W, height=H, margin=dict(l=0, r=0, t=0, b=0),
    paper_bgcolor="white", plot_bgcolor="white",
    annotations=annotations, shapes=shapes, showlegend=False)

fig.write_html("out.html")
